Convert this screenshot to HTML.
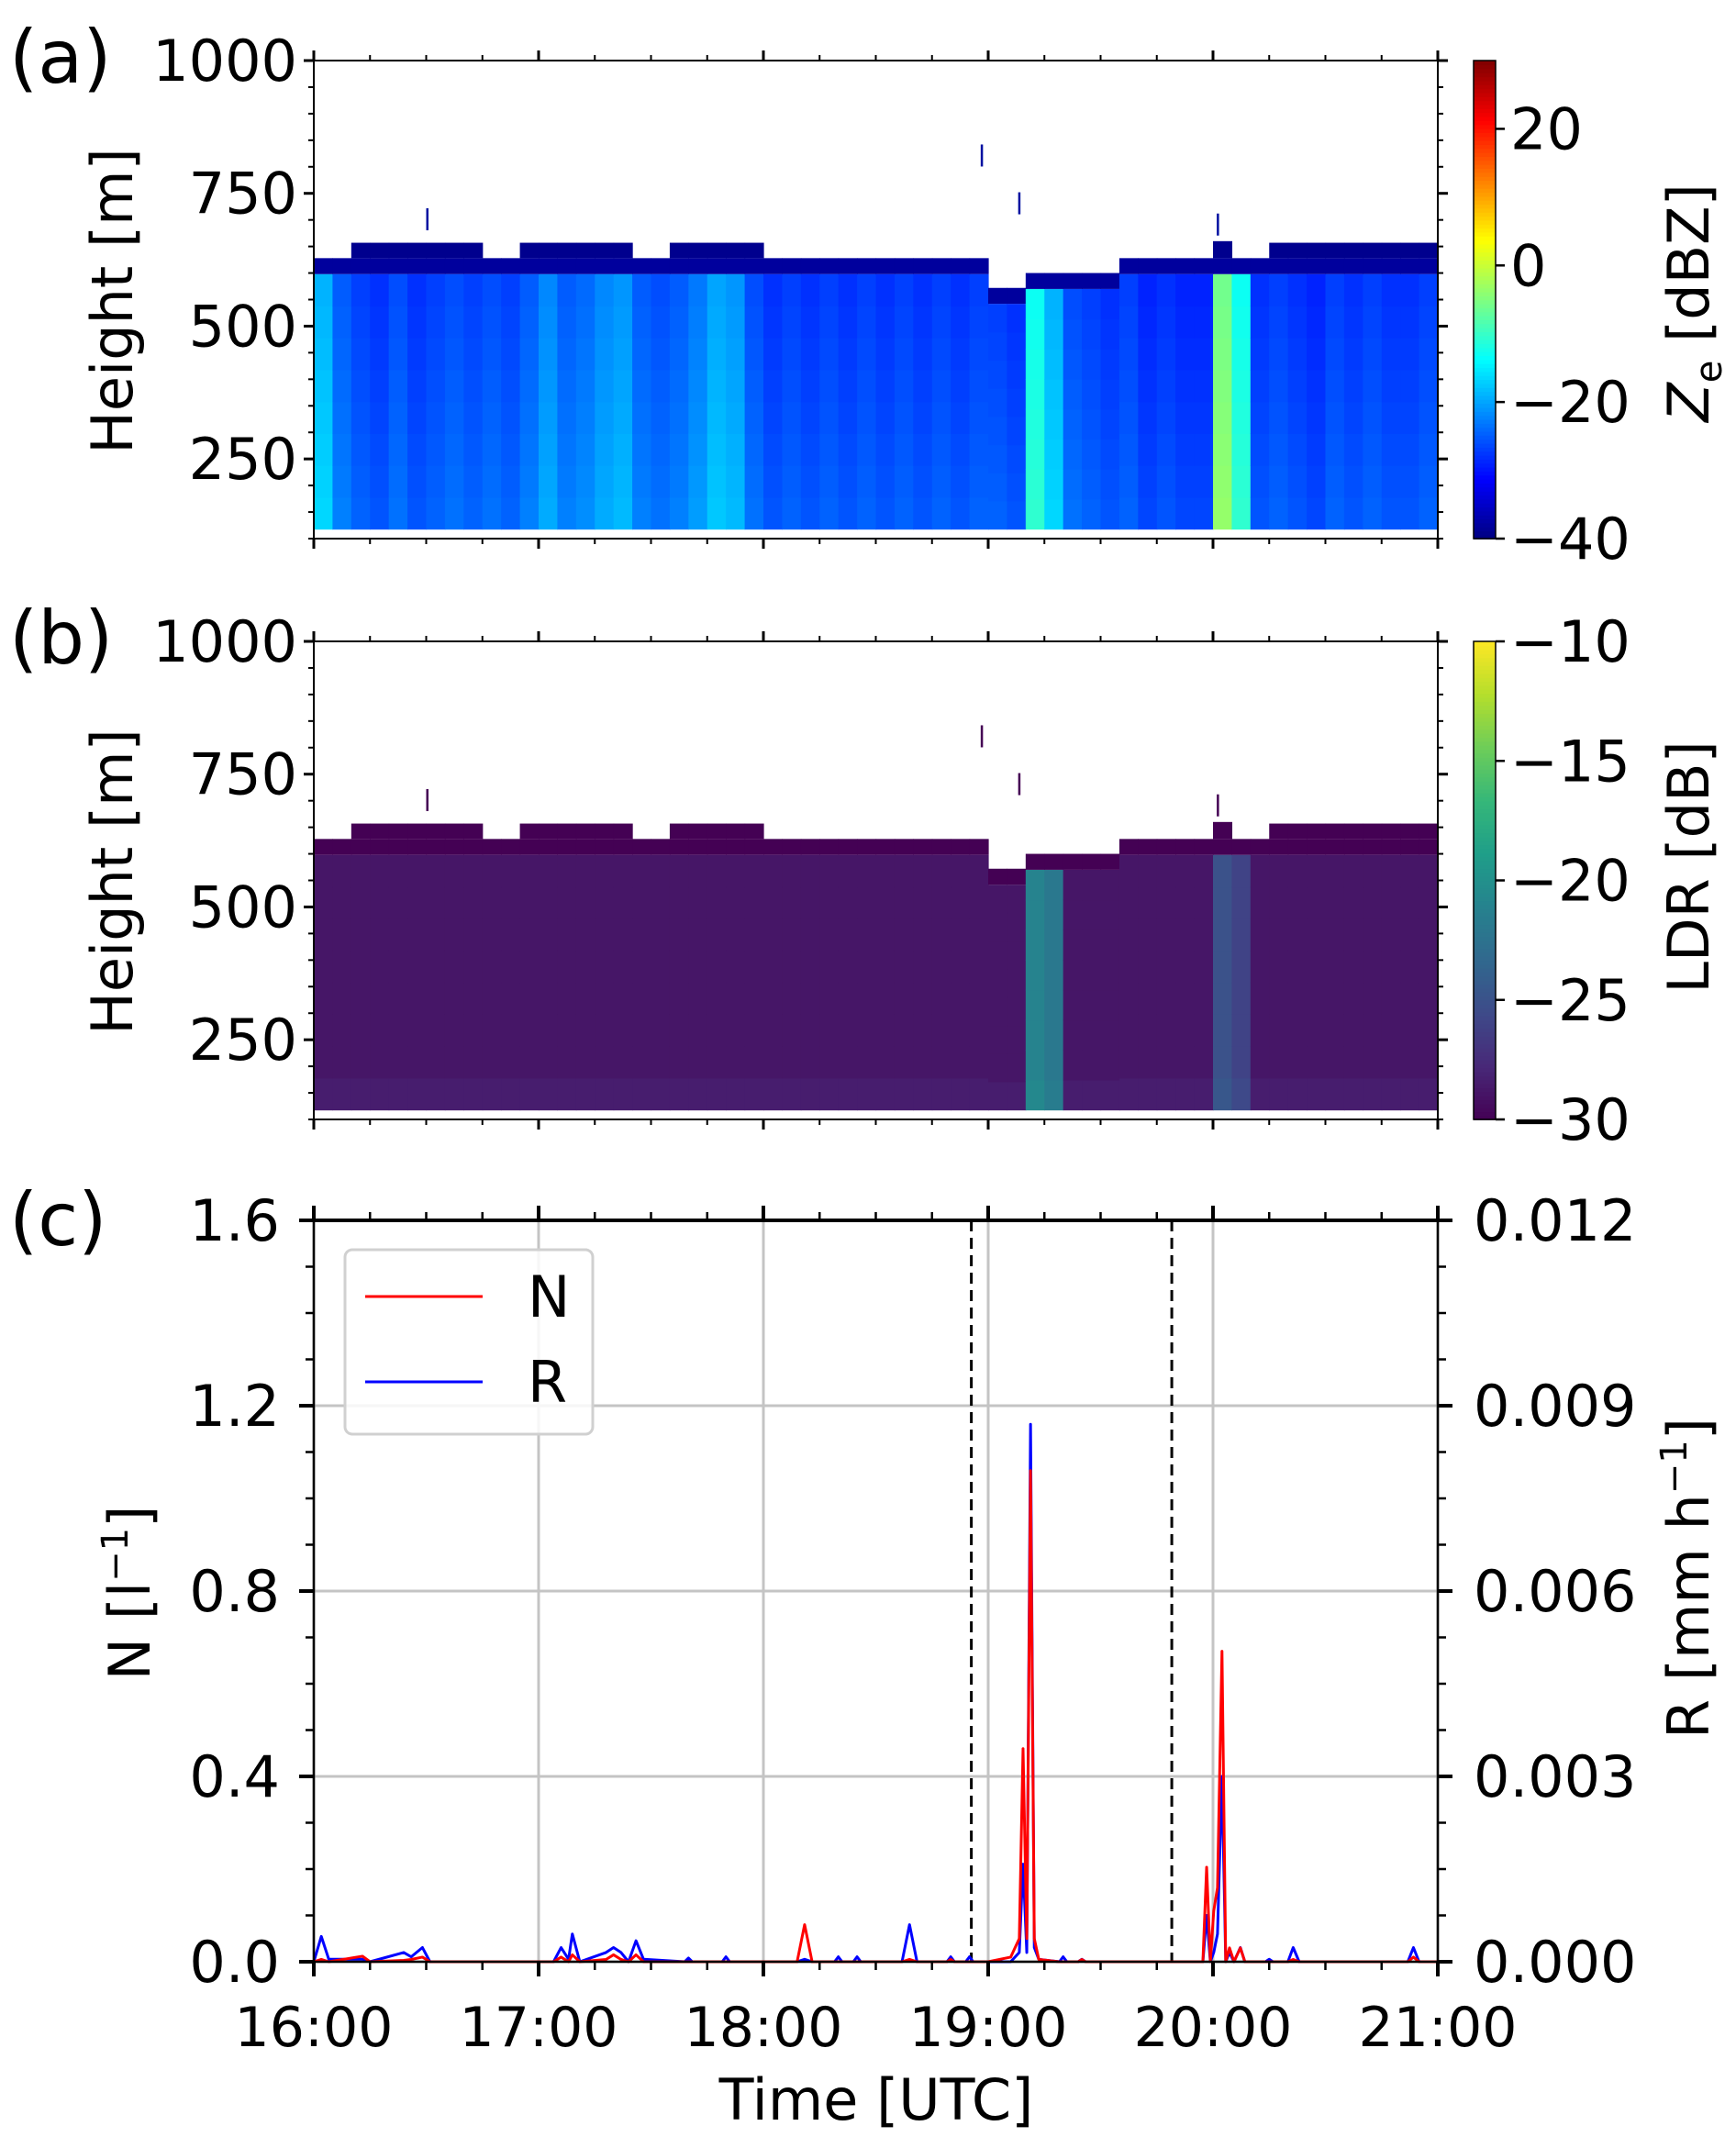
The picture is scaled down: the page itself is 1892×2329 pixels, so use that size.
<!DOCTYPE html>
<html><head><meta charset="utf-8"><style>
html,body{margin:0;padding:0;background:#fff;}
svg{display:block;font-family:"DejaVu Sans","Liberation Sans",sans-serif;}
</style></head><body>
<svg id="fig" width="1892" height="2329" viewBox="0 0 1892 2329" xmlns="http://www.w3.org/2000/svg">
<g id="pa"></g>
<g id="pb"></g>
<g id="pc"></g>
</svg>
<script>
// ---------- data ----------
// Ze column values (dBZ) every 5 min from 16:00
const zeCols = [-18,-24,-26,-27,-25,-27,-26,-25,-26,-25,-26,-24,-21,-24,-23,-21,-20,-24,-25,-24,-22,-19,-20,-25,-27,-26,-27,-26,-27,-26,-27,-26,-27,-26,-27,-26,-26,-27,-12,-18,-25,-26,-27,-26,-28,-27,-28,-28,-5,-12,-27,-26,-27,-28,-26,-27,-26,-27,-27,-26];
// LDR column values (dB) every 5 min
const ldrCols = [-28.8,-28.8,-28.8,-28.8,-28.8,-28.8,-28.8,-28.8,-28.8,-28.8,-28.8,-28.8,-28.8,-28.8,-28.8,-28.8,-28.8,-28.8,-28.8,-28.8,-28.8,-28.8,-28.8,-28.8,-28.8,-28.8,-28.8,-28.8,-28.8,-28.8,-28.8,-28.8,-28.8,-28.8,-28.8,-28.8,-28.8,-28.8,-21,-22,-28.8,-28.8,-28.8,-28.8,-28.8,-28.8,-28.8,-28.8,-25,-26,-28.8,-28.8,-28.8,-28.8,-28.8,-28.8,-28.8,-28.8,-28.8,-28.8];
// cloud top (m) every 5 min
const cloudTop = [628,628,628,628,628,628,628,628,628,628,628,628,628,628,628,628,628,628,628,628,628,628,628,628,628,628,628,628,628,628,628,628,628,628,628,628,572,572,600,600,600,600,600,628,628,628,628,628,628,628,628,628,628,628,628,628,628,628,628,628];
// sporadic upper layer top (m), 0 = none
const upperTop = [0,0,657,657,657,657,657,657,657,0,0,657,657,657,657,657,657,0,0,657,657,657,657,657,0,0,0,0,0,0,0,0,0,0,0,0,0,0,0,0,0,0,0,0,0,0,0,0,660,0,0,657,657,657,657,657,657,657,657,657];
// isolated echoes: time(min), height(m)
const blipT = [30,178,188,241];
const blipH = [710,830,740,700];
// panel c series
const tMin = [0,2,4,13,15,24,26,29,31,64,66,68,69,71,78,80,82,84,86,88,99,100,101,109,110,111,129,131,133,139,140,141,144,145,146,157,159,161,169,170,171,174,175,176,180,186,188.3,189.3,190.3,191.3,192.3,193.5,199,200,201,204,205,206,220,237.3,238.3,239.3,240.2,241.2,242.4,243.4,244.4,245.6,247.3,248.5,254,255,256,260,261.4,263,292,293.5,295,300];
const nVals = [0,0.005,0,0.012,0,0.003,0.005,0.01,0,0,0.01,0,0.015,0,0.005,0.015,0.005,0,0.015,0,0,0,0,0,0,0,0,0.08,0,0,0,0,0,0,0,0,0.005,0,0,0.005,0,0,0,0,0,0.01,0.05,0.46,0.05,1.06,0.05,0.005,0,0,0,0,0.005,0,0,0,0.204,0,0.11,0.16,0.67,0,0.03,0,0.03,0,0,0,0,0,0.005,0,0,0.01,0,0];
const rVals = [0,0.00041,0.00004,0.00004,0,0.00015,0.00008,0.00023,0,0,0.00023,0.00004,0.00045,0,0.00015,0.00023,0.00015,0,0.00034,0.00004,0,0.00006,0,0,0.00008,0,0,0.00004,0,0,0.00008,0,0,0.00008,0,0,0.0006,0,0,0.00008,0,0,0.00008,0,0,0,0.00015,0.00158,0.00015,0.0087,0.00023,0.00004,0,0.00008,0,0,0.00004,0,0,0,0.00075,0,0.00015,0.00045,0.003,0,0.00015,0,0.00023,0,0,0.00004,0,0,0.00023,0,0,0.00023,0,0];
const xTickLabels = ["16:00","17:00","18:00","19:00","20:00","21:00"];
const hTicks = [250,500,750,1000];
const nTicks = [0,0.4,0.8,1.2,1.6];
const nTickLabels = ["0.0","0.4","0.8","1.2","1.6"];
const rTickLabels = ["0.000","0.003","0.006","0.009","0.012"];
const zeCbTicks = [-40,-20,0,20];
const ldrCbTicks = [-30,-25,-20,-15,-10];
const dashTimes = [175.5,229];

// ---------- geometry ----------
const NS="http://www.w3.org/2000/svg";
const X0=342, X1=1567;
const xs = m => X0 + m/300*(X1-X0);
const PH=521;
const yH = (top,h) => top + (1000-h)/900*PH;
const CT=1330, CB=2138;
const yN = v => CB - v/1.6*(CB-CT);
const yR = r => CB - r/0.012*(CB-CT);

function el(parent,tag,attrs,text){const e=document.createElementNS(NS,tag);for(const k in attrs)e.setAttribute(k,attrs[k]);if(text!==undefined)e.textContent=text;parent.appendChild(e);return e;}

function jet(t){t=Math.max(0,Math.min(1,t));
  const r=Math.min(Math.max(Math.min(4*t-1.5,-4*t+4.5),0),1);
  const g=Math.min(Math.max(Math.min(4*t-0.5,-4*t+3.5),0),1);
  const b=Math.min(Math.max(Math.min(4*t+0.5,-4*t+2.5),0),1);
  return `rgb(${Math.round(r*255)},${Math.round(g*255)},${Math.round(b*255)})`;}
const vir=[[68,1,84],[72,40,120],[62,74,137],[49,104,142],[38,130,142],[31,158,137],[53,183,121],[109,205,89],[180,222,44],[253,231,37]];
function viridis(t){t=Math.max(0,Math.min(1,t));const p=t*(vir.length-1);const i=Math.min(Math.floor(p),vir.length-2);const f=p-i;
  const c=vir[i].map((v,k)=>Math.round(v+(vir[i+1][k]-v)*f));return `rgb(${c[0]},${c[1]},${c[2]})`;}

function heatPanel(g,top,vals,cmap,vmin,vmax,darkVal,isZe){
  const bottomH=118;
  for(let i=0;i<vals.length;i++){
    const xa=xs(i*5), xb=xs((i+1)*5);
    const ct=cloudTop[i];
    const nb=8;
    for(let k=0;k<nb;k++){
      const h0=bottomH+(ct-30-bottomH)*k/nb, h1=bottomH+(ct-30-bottomH)*(k+1)/nb;
      const v=vals[i]+(isZe?(1.5-k*0.35):(k<1?0.4:0));
      const r=el(g,'rect',{x:xa,y:yH(top,h1),width:xb-xa+0.6,height:yH(top,h0)-yH(top,h1)+0.6,fill:cmap((v-vmin)/(vmax-vmin))});
      
      
    }
    const r2=el(g,'rect',{x:xa,y:yH(top,ct),width:xb-xa+0.6,height:yH(top,ct-30)-yH(top,ct),fill:cmap((darkVal-vmin)/(vmax-vmin))});
    
    
    if(upperTop[i]>0){
      const r3=el(g,'rect',{x:xa,y:yH(top,upperTop[i]),width:xb-xa+0.6,height:yH(top,ct)-yH(top,upperTop[i]),fill:cmap(((isZe?-39:-30)-vmin)/(vmax-vmin))});
      
      
    }
  }
  for(let j=0;j<blipT.length;j++){
    const b=el(g,'rect',{x:xs(blipT[j]),y:yH(top,blipH[j]+12),width:2.5,height:24,fill:isZe?'#0010a0':'#440154'});
    
    
  }
}

function axesFrame(g,top,bottom,panelLabel,ylabel){
  el(g,'rect',{x:X0,y:top,width:X1-X0,height:bottom-top,fill:'none',stroke:'#000','stroke-width':2});
  for(let m=0;m<=300;m+=15){
    const maj=m%60===0, L=maj?11:6, w=maj?3:2;
    el(g,'line',{x1:xs(m),x2:xs(m),y1:top,y2:top-L,stroke:'#000','stroke-width':w});
    el(g,'line',{x1:xs(m),x2:xs(m),y1:bottom,y2:bottom+L,stroke:'#000','stroke-width':w});
  }
  for(let h=100;h<=1000;h+=50){
    const maj=h%250===0, L=maj?11:6, w=maj?3:2, y=yH(top,h);
    el(g,'line',{x1:X0,x2:X0-L,y1:y,y2:y,stroke:'#000','stroke-width':w});
    el(g,'line',{x1:X1,x2:X1+L,y1:y,y2:y,stroke:'#000','stroke-width':w});
  }
  hTicks.forEach(h=>{const t=el(g,'text',{x:324,y:yH(top,h)+22,'text-anchor':'end','font-size':62},String(h));
    });
  const pl=el(g,'text',{x:10,y:top+24,'font-size':80},panelLabel);
  
  const yl=el(g,'text',{x:0,y:0,'text-anchor':'middle','font-size':62,transform:`translate(144 ${top+262}) rotate(-90)`},ylabel);
  
}

function colorbar(g,top,bottom,cmap,vmin,vmax,ticks){
  const cx0=1606,cx1=1630,n=120;
  for(let i=0;i<n;i++){
    const y0=bottom-(i+1)*(bottom-top)/n;
    el(g,'rect',{x:cx0,y:y0,width:cx1-cx0,height:(bottom-top)/n+0.8,fill:cmap((i+0.5)/n)});
  }
  el(g,'rect',{x:cx0,y:top,width:cx1-cx0,height:bottom-top,fill:'none',stroke:'#000','stroke-width':1.5});
  ticks.forEach(v=>{const y=bottom-(v-vmin)/(vmax-vmin)*(bottom-top);
    el(g,'line',{x1:cx1,x2:cx1+10,y1:y,y2:y,stroke:'#000','stroke-width':2.5});
    const t=el(g,'text',{x:1646,y:y+22,'font-size':62},(v<0?'\u2212':'')+Math.abs(v));
    });
}

// Panel a
const pa=document.getElementById('pa');
heatPanel(pa,66,zeCols,jet,-40,30,-38,true);
axesFrame(pa,66,587,'(a)','Height [m]');
colorbar(pa,66,587,jet,-40,30,zeCbTicks);
{const t=el(pa,'text',{x:0,y:0,'text-anchor':'middle','font-size':62,transform:'translate(1862 330) rotate(-90)'});
 
 const a=el(t,'tspan',{},'Z');a.setAttribute('font-style','italic');
 el(t,'tspan',{'font-size':40,dy:14},'e');el(t,'tspan',{dy:-14},' [dBZ]');}

// Panel b
const pb=document.getElementById('pb');
heatPanel(pb,699,ldrCols,viridis,-30,-10,-30,false);
axesFrame(pb,699,1220,'(b)','Height [m]');
colorbar(pb,699,1220,viridis,-30,-10,ldrCbTicks);
{const t=el(pb,'text',{x:0,y:0,'text-anchor':'middle','font-size':62,transform:'translate(1862 945) rotate(-90)'},'LDR [dB]');
 }

// Panel c
const pc=document.getElementById('pc');
for(let i=0;i<=5;i++) el(pc,'line',{x1:xs(i*60),x2:xs(i*60),y1:CT,y2:CB,stroke:'#c4c4c4','stroke-width':3});
nTicks.forEach(v=>el(pc,'line',{x1:X0,x2:X1,y1:yN(v),y2:yN(v),stroke:'#c4c4c4','stroke-width':3}));
dashTimes.forEach(m=>{const d=el(pc,'line',{x1:xs(m),x2:xs(m),y1:CT,y2:CB,stroke:'#000','stroke-width':3,'stroke-dasharray':'12 7'});
  });
const rLine=el(pc,'polyline',{fill:'none',stroke:'#0000ff','stroke-width':3,'stroke-linejoin':'round',points:tMin.map((t,i)=>xs(t)+','+yR(rVals[i])).join(' ')});

const nLine=el(pc,'polyline',{fill:'none',stroke:'#ff0000','stroke-width':3,'stroke-linejoin':'round',points:tMin.map((t,i)=>xs(t)+','+yN(nVals[i])).join(' ')});

el(pc,'rect',{x:X0,y:CT,width:X1-X0,height:CB-CT,fill:'none',stroke:'#000','stroke-width':2.5});
el(pc,'line',{x1:X0,x2:X1,y1:CT,y2:CT,stroke:'#000','stroke-width':4});
for(let m=0;m<=300;m+=15){
  const maj=m%60===0,L=maj?16:9,w=maj?4:2.5;
  el(pc,'line',{x1:xs(m),x2:xs(m),y1:CB,y2:CB+L,stroke:'#000','stroke-width':w});
  el(pc,'line',{x1:xs(m),x2:xs(m),y1:CT,y2:CT-L,stroke:'#000','stroke-width':w});
}
for(let k=0;k<=16;k++){
  const v=k*0.1,maj=k%4===0,L=maj?16:9,w=maj?4:2.5,y=yN(v);
  el(pc,'line',{x1:X0,x2:X0-L,y1:y,y2:y,stroke:'#000','stroke-width':w});
  el(pc,'line',{x1:X1,x2:X1+L,y1:y,y2:y,stroke:'#000','stroke-width':w});
}
nTicks.forEach((v,i)=>{
  const t=el(pc,'text',{x:305,y:yN(v)+22,'text-anchor':'end','font-size':62},nTickLabels[i]);
  
  const r=el(pc,'text',{x:1606,y:yN(v)+22,'font-size':62},rTickLabels[i]);
  
});
xTickLabels.forEach((s,i)=>{const t=el(pc,'text',{x:xs(i*60),y:2230,'text-anchor':'middle','font-size':60},s);
  });
{const t=el(pc,'text',{x:955,y:2310,'text-anchor':'middle','font-size':62},'Time [UTC]');
 
 const p=el(pc,'text',{x:10,y:1357,'font-size':80},'(c)');
 
 const yl=el(pc,'text',{x:0,y:0,'text-anchor':'middle','font-size':62,transform:'translate(163 1736) rotate(-90)'});
 
 el(yl,'tspan',{},'N [l');el(yl,'tspan',{'font-size':40,dy:-24},'\u22121');el(yl,'tspan',{dy:24},']');
 const yr=el(pc,'text',{x:0,y:0,'text-anchor':'middle','font-size':62,transform:'translate(1862 1720) rotate(-90)'});
 
 el(yr,'tspan',{},'R [mm h');el(yr,'tspan',{'font-size':40,dy:-24},'\u22121');el(yr,'tspan',{dy:24},']');
 const lg=el(pc,'g',{});
 
 el(lg,'rect',{x:376,y:1362,width:270,height:201,rx:8,fill:'#fff','fill-opacity':0.85,stroke:'#d0d0d0','stroke-width':3});
 el(lg,'line',{x1:398,x2:526,y1:1413,y2:1413,stroke:'#ff0000','stroke-width':3});
 const ln=el(lg,'text',{x:575,y:1435,'font-size':62},'N');
 el(lg,'line',{x1:398,x2:526,y1:1506,y2:1506,stroke:'#0000ff','stroke-width':3});
 const lr=el(lg,'text',{x:575,y:1528,'font-size':62},'R');}
</script>
</body></html>
